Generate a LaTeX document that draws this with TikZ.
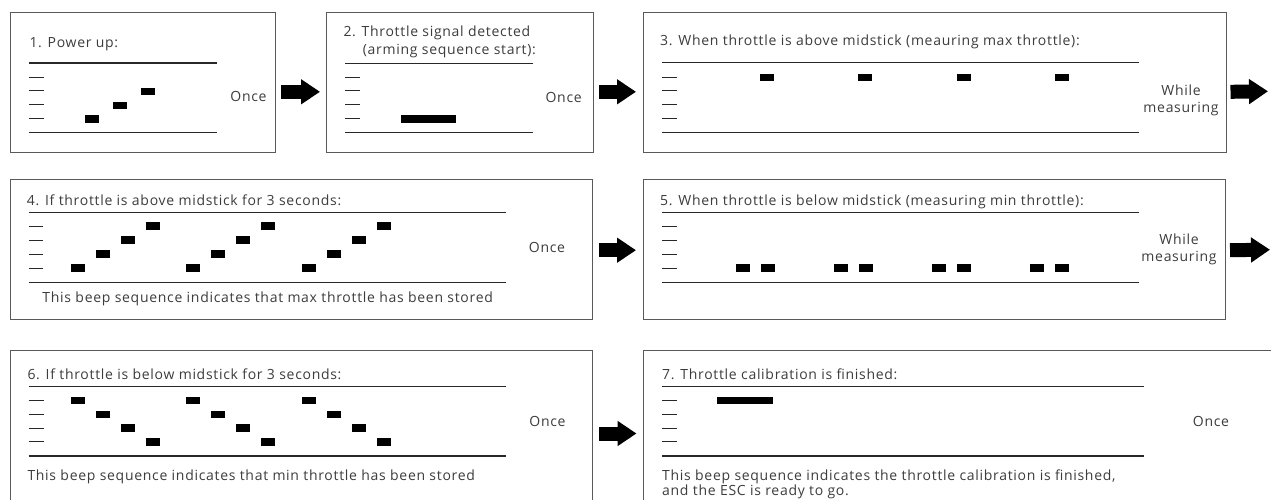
\documentclass[tikz,border=0pt]{standalone}
\usepackage{fontspec}
\setmainfont{Open Sans}[LetterSpace=5]
\usepackage{tikz}
\usetikzlibrary{arrows.meta, positioning}
\definecolor{framegray}{RGB}{90,90,90}
\definecolor{rulegray}{RGB}{40,40,40}
\definecolor{textgray}{RGB}{60,60,60}
\tikzset{
    panel/.style={
        rectangle,
        draw=framegray,
        line width=1pt,
        anchor=north west,
        inner sep=0pt
    },
    seprule/.style={
        draw=rulegray,
        line width=1.4pt
    },
    levelmark/.style={
        draw=rulegray,
        line width=1pt
    },
    beep/.style={
        rectangle,
        fill=black,
        inner sep=0pt,
        minimum width=14pt,
        minimum height=7.5pt
    },
    longbeep/.style={
        beep,
        minimum width=55.5pt
    },
    caption/.style={
        text=textgray,
        inner sep=0pt,
        font=\fontsize{14}{17.7}\selectfont
    },
    repeatnote/.style={
        caption,
        align=center,
        font=\fontsize{14}{17}\selectfont
    },
    flowarrow/.style={
        draw=black,
        line width=14pt,
        -{Triangle[width=24pt, length=19pt]}
    }
}
\begin{document}
\begin{tikzpicture}[x=1pt, y=-1pt]
\useasboundingbox (0,0) rectangle (1271,500);
\clip (0,0) rectangle (1271,500);

% Panels
\node[panel, minimum width=265pt, minimum height=140pt] (box1) at (10,12) {};
\node[panel, minimum width=266.5pt, minimum height=140pt] (box2) at (326,12) {};
\node[panel, minimum width=582.5pt, minimum height=140pt] (box3) at (643,12) {};
\node[panel, minimum width=582.3pt, minimum height=140pt] (box4) at (10,179.3) {};
\node[panel, minimum width=582pt, minimum height=140pt] (box5) at (642.7,179.3) {};
\node[panel, minimum width=582.3pt, minimum height=160pt] (box6) at (10,350) {};
\node[panel, minimum width=650pt, minimum height=160pt] (box7) at (642.8,350) {};

% 1. Power up
\node[caption, anchor=base west] (title1) at (29.3,47.6) {1. Power up:};
\draw[seprule] (29.3,63) -- (217,63);
\draw[seprule] (29.3,132.7) -- (217,132.7);
\foreach \y in {77.3,91,104.7,118.3}
    \draw[levelmark] (29.3,\y) -- (44,\y);
\foreach \x/\y [count=\i] in {92/118.8, 120/105.4, 148/91.5}
    \node[beep] (power\i) at (\x,\y) {};
\node[caption, anchor=base] (once1) at (248.5,101.7) {Once};

% 2. Throttle signal detected
\node[caption, anchor=north west, align=left] (title2) at (343.3,26.1)
    {2. Throttle signal detected\\\hspace*{19.4pt}(arming sequence start):};
\draw[seprule] (345,63.3) -- (532.7,63.3);
\draw[seprule] (345,132.7) -- (532.7,132.7);
\foreach \y in {77.3,91,104.7,118.3}
    \draw[levelmark] (345,\y) -- (360,\y);
\node[longbeep] (arming) at (428.3,118.8) {};
\node[caption, anchor=base] (once2) at (563.7,102.3) {Once};

% 3. Measuring max throttle
\node[caption, anchor=base west] (title3) at (660,46)
    {3. When throttle is above midstick (meauring max throttle):};
\draw[seprule] (662,62.7) -- (1139,62.7);
\draw[seprule] (662,132.7) -- (1139,132.7);
\foreach \y in {77.3,91,104.7,118.3}
    \draw[levelmark] (662,\y) -- (677,\y);
\foreach \k in {0,...,3}
    \node[beep] (maxbeep\k) at ({767+98.3*\k},77.5) {};
\node[repeatnote] (while3) at (1181,100.5) {While\\measuring};

% 4. Max throttle stored
\node[caption, anchor=base west] (title4) at (26.7,205.3)
    {4. If throttle is above midstick for 3 seconds:};
\draw[seprule] (29.3,212.7) -- (506,212.7);
\draw[seprule] (29.3,282.7) -- (506,282.7);
\foreach \y in {226,240,254,268}
    \draw[levelmark] (29.3,\y) -- (43.3,\y);
\foreach \k in {0,1,2}
    \foreach \j in {0,...,3}
        \node[beep] (rise\k\j) at ({77.5+115.7*\k+25*\j},{268-14*\j}) {};
\node[caption, anchor=base] (note4) at (267.7,302.3)
    {This beep sequence indicates that max throttle has been stored};
\node[caption, anchor=base] (once4) at (547,252.7) {Once};

% 5. Measuring min throttle
\node[caption, anchor=base west] (title5) at (660,205.3)
    {5. When throttle is below midstick (measuring min throttle):};
\draw[seprule] (662,212.7) -- (1139,212.7);
\draw[seprule] (662,282.7) -- (1139,282.7);
\foreach \y in {226,240,254,268}
    \draw[levelmark] (662,\y) -- (677,\y);
\foreach \k in {0,...,3} {
    \node[beep] (minbeep\k a) at ({742.5+98.3*\k},268) {};
    \node[beep] (minbeep\k b) at ({767.5+98.3*\k},268) {};
}
\node[repeatnote] (while5) at (1179,249.5) {While\\measuring};

% 6. Min throttle stored
\node[caption, anchor=base west] (title6) at (27.3,379)
    {6. If throttle is below midstick for 3 seconds:};
\draw[seprule] (28.6,386.7) -- (506,386.7);
\draw[seprule] (28.6,456) -- (506,456);
\foreach \y in {400.7,414.3,428,441.7}
    \draw[levelmark] (28.6,\y) -- (44,\y);
\foreach \k in {0,1,2}
    \foreach \j in {0,...,3}
        \node[beep] (fall\k\j) at ({77.5+115.7*\k+25*\j},{400.7+13.7*\j}) {};
\node[caption, anchor=base west] (note6) at (27.3,480)
    {This beep sequence indicates that min throttle has been stored};
\node[caption, anchor=base] (once6) at (547.5,426.7) {Once};

% 7. Calibration finished
\node[caption, anchor=base west] (title7) at (662,379)
    {7. Throttle calibration is finished:};
\draw[seprule] (662,386.7) -- (1144,386.7);
\draw[seprule] (662,456) -- (1144,456);
\foreach \y in {400.7,414.3,428,441.7}
    \draw[levelmark] (662,\y) -- (677,\y);
\node[longbeep, minimum width=56.5pt] (ready) at (745,400.7) {};
\node[caption, anchor=north west, align=left, font=\fontsize{14}{15.5}\selectfont] (note7) at (662,469.2)
    {This beep sequence indicates the throttle calibration is finished,\\and the ESC is ready to go.};
\node[caption, anchor=base] (once7) at (1211,426.7) {Once};

% Arrows
\coordinate (out3) at (1268,91.3);
\coordinate (out5) at (1270,249.7);
\draw[flowarrow] ([xshift=5pt, yshift=-9.3pt]box1.east) -- ([xshift=-6pt, yshift=-9.3pt]box2.west);
\draw[flowarrow] ([xshift=5.5pt, yshift=-9.3pt]box2.east) -- ([xshift=-7pt, yshift=-9.3pt]box3.west);
\draw[flowarrow] ([xshift=4pt, yshift=-9.3pt]box3.east) -- (out3);
\draw[flowarrow] ([xshift=5.4pt, yshift=-0.4pt]box4.east) -- ([xshift=-6.7pt, yshift=-0.4pt]box5.west);
\draw[flowarrow] ([xshift=4.3pt, yshift=-0.4pt]box5.east) -- (out5);
\draw[flowarrow] ([xshift=5.7pt, yshift=-3pt]box6.east) -- ([xshift=-6.3pt, yshift=-3pt]box7.west);

\end{tikzpicture}
\end{document}
